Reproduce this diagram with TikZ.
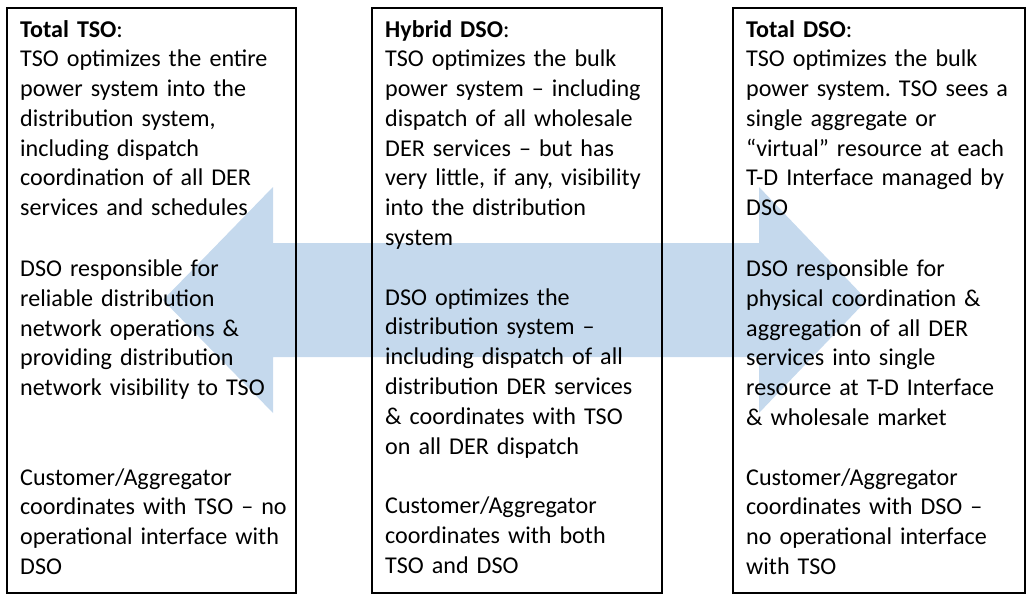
\documentclass[tikz,border=0pt]{standalone}
\usepackage{fontspec}
\setmainfont{Carlito}
\usepackage{xcolor}
\definecolor{arrowblue}{RGB}{197,217,237}
\frenchspacing

\begin{document}
\begin{tikzpicture}[x=1pt,y=-1pt,
    boxtext/.style={anchor=base west, inner sep=0pt, text width=285pt, align=left,
        font=\fontsize{24.1}{29.8}\selectfont},
    boxline/.style={line width=2.5pt}]
    % Fix the page size
    \useasboundingbox (0,0) rectangle (1029,597);

    % Draw the double arrow behind the boxes
    \fill[arrowblue] (163,300) -- (273,187) -- (273,243) -- (759,243) -- (759,187)
        -- (867,300) -- (759,413) -- (759,357) -- (273,357) -- (273,413) -- cycle;

    % Draw the three boxes
    \draw[boxline] (7,8) rectangle (296,593);
    \draw[boxline] (372,8) rectangle (662,593);
    \draw[boxline] (733,8) rectangle (1025,593);

    % Draw the box texts
    \node[boxtext] (totaltso) at (20,37) {\textbf{Total TSO}:\\
        TSO optimizes the entire\\
        power system into the\\
        distribution system,\\
        including dispatch\\
        coordination of all DER\\
        services and schedules\\[31pt]
        DSO responsible for\\
        reliable distribution\\
        network operations \&\\
        providing distribution\\
        network visibility to TSO\\[59.6pt]
        Customer/Aggregator\\
        coordinates with TSO – no\\
        operational interface with\\
        DSO};
    \node[boxtext] (hybriddso) at (385,37) {\textbf{Hybrid DSO}:\\
        TSO optimizes the bulk\\
        power system – including\\
        dispatch of all wholesale\\
        DER services – but has\\
        very little, if any, visibility\\
        into the distribution\\
        system\\[29.8pt]
        DSO optimizes the\\
        distribution system –\\
        including dispatch of all\\
        distribution DER services\\
        \& coordinates with TSO\\
        on all DER dispatch\\[29.8pt]
        Customer/Aggregator\\
        coordinates with both\\
        TSO and DSO};
    \node[boxtext] (totaldso) at (746,37) {\textbf{Total DSO}:\\
        TSO optimizes the bulk\\
        power system. TSO sees a\\
        single aggregate or\\
        “virtual” resource at each\\
        T-D Interface managed by\\
        DSO\\[31pt]
        DSO responsible for\\
        physical coordination \&\\
        aggregation of all DER\\
        services into single\\
        resource at T-D Interface\\
        \& wholesale market\\[29.8pt]
        Customer/Aggregator\\
        coordinates with DSO –\\
        no operational interface\\
        with TSO};
\end{tikzpicture}
\end{document}
